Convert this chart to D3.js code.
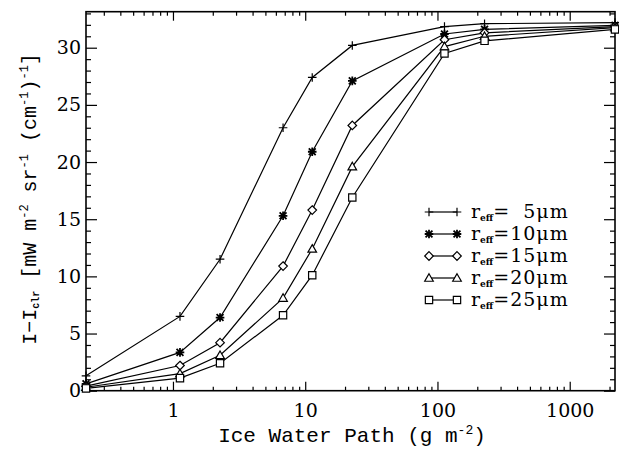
<!DOCTYPE html>
<html>
<head>
<meta charset="utf-8">
<script src="https://cdn.jsdelivr.net/npm/d3@7"></script>
<style>
  body { margin: 0; background: #fff; }
  svg { display: block; }
</style>
</head>
<body>
<div id="chart"></div>
<script>
// ice water path values (g m^-2)
const iwp = [0.22, 1.13, 2.27, 6.8, 11.3, 22.7, 113, 227, 2200];

// radiance differences for each effective radius
const r5  = [1.3, 6.5, 11.5, 23.0, 27.4, 30.2, 31.85, 32.1, 32.2];
const r10 = [0.6, 3.35, 6.4, 15.3, 20.9, 27.1, 31.2, 31.6, 31.95];
const r15 = [0.4, 2.2, 4.2, 10.9, 15.8, 23.2, 30.7, 31.3, 31.85];
const r20 = [0.3, 1.5, 3.1, 8.1, 12.4, 19.6, 30.1, 31.0, 31.75];
const r25 = [0.2, 1.1, 2.4, 6.6, 10.1, 16.9, 29.5, 30.6, 31.6];

const labels = ['5', '10', '15', '20', '25'];
const symbols = ['plus', 'star', 'diamond', 'triangle', 'square'];
const seriesValues = [r5, r10, r15, r20, r25];

const xMajor = [1, 10, 100, 1000];
const yMajor = [0, 5, 10, 15, 20, 25, 30];

const W = 619, H = 450;
const mLeft = 86, mRight = 615, mTop = 11.7, mBottom = 390.7;

const svg = d3.select('#chart')
    .append('svg')
    .attr('width', W)
    .attr('height', H)
    .style('background', '#fff');

const x = d3.scaleLog()
    .domain([0.22, 2200])
    .range([mLeft, mRight]);

const y = d3.scaleLinear()
    .domain([0, 33.15])
    .range([mBottom, mTop]);

const xMinor = x.ticks().filter(d => !xMajor.includes(d));
const yMinor = d3.range(0, 34).filter(d => d % 5 !== 0);

const tickFont = 'DejaVu Serif';

// bottom axis
svg.append('g')
    .attr('transform', `translate(0,${mBottom})`)
    .call(d3.axisBottom(x).tickValues(xMajor).tickSize(-9).tickPadding(13)
        .tickFormat(d3.format('d')));
svg.append('g')
    .attr('transform', `translate(0,${mBottom})`)
    .call(d3.axisBottom(x).tickValues(xMinor).tickSize(-4).tickFormat(''));
// top axis
svg.append('g')
    .attr('transform', `translate(0,${mTop})`)
    .call(d3.axisTop(x).tickValues(xMajor).tickSize(-9).tickFormat(''));
svg.append('g')
    .attr('transform', `translate(0,${mTop})`)
    .call(d3.axisTop(x).tickValues(xMinor).tickSize(-4).tickFormat(''));
// left axis
svg.append('g')
    .attr('transform', `translate(${mLeft},0)`)
    .call(d3.axisLeft(y).tickValues(yMajor).tickSize(-11).tickPadding(5));
svg.append('g')
    .attr('transform', `translate(${mLeft},0)`)
    .call(d3.axisLeft(y).tickValues(yMinor).tickSize(-5).tickFormat(''));
// right axis
svg.append('g')
    .attr('transform', `translate(${mRight},0)`)
    .call(d3.axisRight(y).tickValues(yMajor).tickSize(-11).tickFormat(''));
svg.append('g')
    .attr('transform', `translate(${mRight},0)`)
    .call(d3.axisRight(y).tickValues(yMinor).tickSize(-5).tickFormat(''));

svg.selectAll('.domain').remove();
svg.selectAll('.tick line').attr('stroke', '#000').attr('stroke-width', 1.2);
svg.selectAll('.tick text')
    .attr('fill', '#000')
    .style('font-family', tickFont)
    .style('font-size', '19px');

// frame
svg.append('rect')
    .attr('x', mLeft).attr('y', mTop)
    .attr('width', mRight - mLeft).attr('height', mBottom - mTop)
    .attr('fill', 'none').attr('stroke', '#000').attr('stroke-width', 1.6);

// marker shapes
function markerPath(type) {
    const s = 4.3;
    if (type === 'plus') return `M${-s},0H${s}M0,${-s}V${s}`;
    if (type === 'star') {
        const d = s * 0.8;
        return `M${-s},0H${s}M0,${-s}V${s}M${-d},${-d}L${d},${d}M${-d},${d}L${d},${-d}`;
    }
    if (type === 'diamond') return `M0,${-s}L${s},0L0,${s}L${-s},0Z`;
    if (type === 'triangle') return `M0,${-s}L${s},${s * 0.75}L${-s},${s * 0.75}Z`;
    if (type === 'square') return `M${-s * 0.85},${-s * 0.85}H${s * 0.85}V${s * 0.85}H${-s * 0.85}Z`;
}

const line = d3.line()
    .x((d, i) => x(iwp[i]))
    .y(d => y(d));

const plot = svg.append('g');
seriesValues.forEach((vals, k) => {
    plot.append('path')
        .datum(vals)
        .attr('d', line)
        .attr('fill', 'none')
        .attr('stroke', '#000')
        .attr('stroke-width', 1.2);
    plot.selectAll(null)
        .data(vals)
        .enter().append('path')
        .attr('transform', (d, i) => `translate(${x(iwp[i])},${y(d)})`)
        .attr('d', markerPath(symbols[k]))
        .attr('fill', symbols[k] === 'plus' || symbols[k] === 'star' ? 'none' : '#fff')
        .attr('stroke', '#000')
        .attr('stroke-width', symbols[k] === 'star' ? 1.8 : 1.2);
});

// legend
const legend = svg.append('g');
labels.forEach((lab, k) => {
    const ly = 212 + k * 22;
    const g = legend.append('g').attr('transform', `translate(0,${ly})`);
    g.append('line')
        .attr('x1', 429).attr('x2', 457).attr('y1', 0).attr('y2', 0)
        .attr('stroke', '#000').attr('stroke-width', 1.2);
    [429, 457].forEach(px => {
        g.append('path')
            .attr('transform', `translate(${px},0)`)
            .attr('d', markerPath(symbols[k]))
            .attr('fill', symbols[k] === 'plus' || symbols[k] === 'star' ? 'none' : '#fff')
            .attr('stroke', '#000')
            .attr('stroke-width', symbols[k] === 'star' ? 1.8 : 1.2);
    });
    const t = g.append('text')
        .attr('x', 471).attr('y', 6)
        .style('font-family', tickFont)
        .style('font-size', '19px');
    t.append('tspan').text('r');
    t.append('tspan').attr('dy', 3).style('font-size', '9px').style('font-weight', 'bold').text('eff');
    t.append('tspan').attr('dy', -3).style('letter-spacing', '1px')
        .text('=' + (lab.length === 1 ? '\u2007' : '') + lab + '\u03bcm');
});

// x axis title
const xt = svg.append('text')
    .attr('x', 352).attr('y', 442)
    .attr('text-anchor', 'middle')
    .style('font-family', 'Liberation Mono')
    .style('font-size', '21px');
xt.append('tspan').text('Ice Water Path (g m');
xt.append('tspan').attr('dy', -8).style('font-size', '13px').text('-2');
xt.append('tspan').attr('dy', 8).text(')');

// y axis title
const yt = svg.append('text')
    .attr('transform', 'translate(36,199) rotate(-90)')
    .attr('text-anchor', 'middle')
    .style('font-family', 'Liberation Mono')
    .style('font-size', '20px');
yt.append('tspan').text('I\u2212I');
yt.append('tspan').attr('dy', 3).style('font-size', '10px').style('font-weight', 'bold').text('clr');
yt.append('tspan').attr('dy', -3).text(' [mW m');
yt.append('tspan').attr('dy', -8).style('font-size', '12px').text('-2');
yt.append('tspan').attr('dy', 8).text(' sr');
yt.append('tspan').attr('dy', -8).style('font-size', '12px').text('-1');
yt.append('tspan').attr('dy', 8).text(' (cm');
yt.append('tspan').attr('dy', -8).style('font-size', '12px').text('-1');
yt.append('tspan').attr('dy', 8).text(')');
yt.append('tspan').attr('dy', -8).style('font-size', '12px').text('-1');
yt.append('tspan').attr('dy', 8).text(']');
</script>
</body>
</html>
